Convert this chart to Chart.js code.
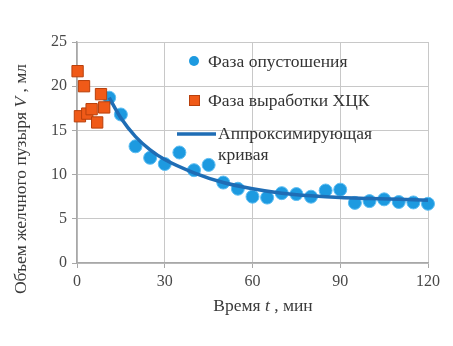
<!DOCTYPE html>
<html>
<head>
<meta charset="utf-8">
<script src="https://cdn.jsdelivr.net/npm/chart.js@4/dist/chart.umd.min.js"></script>
<style>
html,body{margin:0;padding:0;background:#fff;}
#wrap{width:453px;height:346px;position:relative;}
</style>
</head>
<body>
<div id="wrap"><canvas id="c" width="453" height="346"></canvas></div>
<script>
// Data
const emptyingTimes = [11, 15, 20, 25, 30, 35, 40, 45, 50, 55, 60, 65, 70, 75, 80, 85, 90, 95, 100, 105, 110, 115, 120];
const emptyingVolumes = [18.7, 16.8, 13.2, 11.9, 11.2, 12.5, 10.5, 11.1, 9.1, 8.4, 7.5, 7.4, 7.9, 7.8, 7.5, 8.2, 8.3, 6.8, 7.0, 7.2, 6.9, 6.85, 6.7];
const productionTimes = [0.2, 2.4, 1.0, 3.5, 5.0, 6.9, 8.2, 9.3];
const productionVolumes = [21.7, 20.0, 16.6, 16.9, 17.4, 15.9, 19.1, 17.6];
const curveTimes = [11, 15, 20, 25, 30, 40, 50, 60, 70, 80, 90, 100, 110, 120];
const curveVolumes = [18.7, 16.4, 14.3, 12.8, 11.7, 10.2, 9.1, 8.4, 7.9, 7.6, 7.4, 7.3, 7.2, 7.1];
const xTicks = [0, 30, 60, 90, 120];
const yTicks = [0, 5, 10, 15, 20, 25];
const legendLabels = ['Фаза опустошения', 'Фаза выработки ХЦК', ['Аппроксимирующая', 'кривая']];

const toPts = (xs, ys) => xs.map((x, i) => ({x: x, y: ys[i]}));

const FONT = '"Liberation Serif", "Times New Roman", serif';
const BLUE = '#1d9ae0';
const ORANGE = '#f05a18';
const CURVE = '#1f6db5';
const TXT = 17.5;

const legendPlugin = {
  id: 'customLegend',
  afterDatasetsDraw(chart) {
    const ctx = chart.ctx;
    ctx.save();
    ctx.font = TXT + 'px ' + FONT;
    ctx.textBaseline = 'middle';
    ctx.textAlign = 'left';
    ctx.beginPath();
    ctx.arc(194, 61, 5, 0, Math.PI * 2);
    ctx.fillStyle = BLUE; ctx.fill();
    ctx.fillStyle = '#333';
    ctx.fillText(legendLabels[0], 208, 62);
    ctx.fillStyle = ORANGE;
    ctx.fillRect(189.5, 95.5, 10, 10);
    ctx.strokeStyle = '#b8400c'; ctx.lineWidth = 1;
    ctx.strokeRect(189.5, 95.5, 10, 10);
    ctx.fillStyle = '#333';
    ctx.fillText(legendLabels[1], 208, 101);
    ctx.strokeStyle = CURVE; ctx.lineWidth = 3.5;
    ctx.beginPath(); ctx.moveTo(177, 134); ctx.lineTo(216, 134); ctx.stroke();
    ctx.fillText(legendLabels[2][0], 218, 134);
    ctx.fillText(legendLabels[2][1], 218, 155);
    ctx.restore();
  }
};

function drawMixed(ctx, parts, cx, cy) {
  let total = 0;
  parts.forEach(p => { ctx.font = (p.i ? 'italic ' : '') + TXT + 'px ' + FONT; p.w = ctx.measureText(p.t).width; total += p.w; });
  let x = cx - total / 2;
  parts.forEach(p => { ctx.font = (p.i ? 'italic ' : '') + TXT + 'px ' + FONT; ctx.fillText(p.t, x, cy); x += p.w; });
}

const titlePlugin = {
  id: 'axisTitles',
  afterDraw(chart) {
    const ctx = chart.ctx;
    ctx.save();
    ctx.fillStyle = '#3a3a3a';
    ctx.textBaseline = 'middle';
    ctx.textAlign = 'left';
    drawMixed(ctx, [{t: 'Время '}, {t: 't', i: true}, {t: ' , мин'}], 263, 306);
    ctx.translate(21, 179);
    ctx.rotate(-Math.PI / 2);
    drawMixed(ctx, [{t: 'Объем желчного пузыря '}, {t: 'V', i: true}, {t: ' , мл'}], 0, 0);
    ctx.restore();
  }
};

new Chart(document.getElementById('c'), {
  type: 'scatter',
  data: {
    datasets: [
      {
        label: legendLabels[1],
        data: toPts(productionTimes, productionVolumes),
        pointStyle: 'rect',
        pointRadius: 8,
        backgroundColor: ORANGE,
        borderColor: '#b8400c',
        borderWidth: 1,
        clip: false,
        order: 0
      },
      {
        label: 'curve',
        data: toPts(curveTimes, curveVolumes),
        showLine: true,
        pointRadius: 0,
        borderColor: CURVE,
        borderWidth: 3.5,
        cubicInterpolationMode: 'monotone',
        clip: false,
        order: 1
      },
      {
        label: legendLabels[0],
        data: toPts(emptyingTimes, emptyingVolumes),
        pointRadius: 6.5,
        backgroundColor: BLUE,
        borderColor: '#5cbdf2',
        borderWidth: 1,
        clip: false,
        order: 2
      }
    ]
  },
  options: {
    responsive: false,
    animation: false,
    events: [],
    layout: {padding: {left: 0, right: 25, top: 42, bottom: 0}},
    plugins: {legend: {display: false}, tooltip: {enabled: false}},
    scales: {
      x: {
        type: 'linear', min: 0, max: 120,
        afterBuildTicks: s => { s.ticks = xTicks.map(v => ({value: v})); },
        afterFit: s => { s.height = 83; },
        ticks: {font: {family: FONT, size: 16}, color: '#484848', padding: 4},
        grid: {color: '#c8c8c8', borderDash: [6, 4], tickLength: 5, tickColor: '#a8a8a8', tickBorderDash: []},
        border: {display: true, color: '#a8a8a8', width: 1.5}
      },
      y: {
        type: 'linear', min: 0, max: 25,
        afterBuildTicks: s => { s.ticks = yTicks.map(v => ({value: v})); },
        afterFit: s => { s.width = 77; },
        ticks: {font: {family: FONT, size: 16}, color: '#484848', padding: 5},
        grid: {color: '#c8c8c8', borderDash: [6, 4], tickLength: 5, tickColor: '#a8a8a8', tickBorderDash: []},
        border: {display: true, color: '#a8a8a8', width: 1.5}
      }
    }
  },
  plugins: [legendPlugin, titlePlugin]
});
</script>
</body>
</html>
